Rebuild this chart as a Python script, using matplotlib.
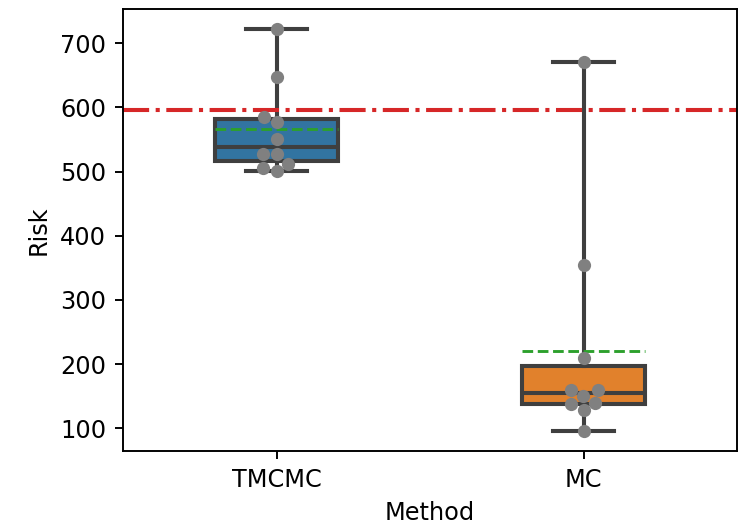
import numpy as np
import pandas as pd
import matplotlib
matplotlib.use("Agg")
import matplotlib.pyplot as plt
import seaborn as sns

methods = ["TMCMC", "MC"]
tmcmc_risk = [722, 648, 584.5, 577, 551, 527, 527, 512, 506, 501.5]
mc_risk = [670, 355, 209, 160, 160, 150, 140, 138, 128, 96]
reference_risk = 596
box_colors = ["#3274a1", "#e1812c"]
line_color = "#3f3f3f"

DPI = 173
fig = plt.figure(figsize=(741 / DPI, 526 / DPI), dpi=DPI)
ax = fig.add_axes([0.166, 0.1426, 0.8286, 0.8403])

data = [tmcmc_risk, mc_risk]
bp = ax.boxplot(data, positions=[0, 1], widths=0.4, whis=(0, 100),
                patch_artist=True, showmeans=True, meanline=True,
                showfliers=False,
                boxprops=dict(edgecolor=line_color, linewidth=1.7),
                whiskerprops=dict(color=line_color, linewidth=1.7),
                capprops=dict(color=line_color, linewidth=1.7),
                medianprops=dict(color=line_color, linewidth=1.7),
                meanprops=dict(color="#2ca02c", linestyle="--", linewidth=1.2))
for patch, c in zip(bp["boxes"], box_colors):
    patch.set_facecolor(c)

df = pd.DataFrame({"Method": [methods[0]] * len(tmcmc_risk) + [methods[1]] * len(mc_risk),
                   "Risk": tmcmc_risk + mc_risk})
sns.swarmplot(data=df, x="Method", y="Risk", order=methods, color="gray", size=5.5, ax=ax, zorder=5)

ax.axhline(reference_risk, color="#d62728", linestyle="-.", linewidth=1.7)
ax.set_xlim(-0.5, 1.5)
ax.set_xticks([0, 1])
ax.set_xticklabels(methods)
ax.set_xlabel("Method")
ax.set_ylabel("Risk")
ax.set_yticks([100, 200, 300, 400, 500, 600, 700])

fig.savefig("out.png", dpi=DPI)
